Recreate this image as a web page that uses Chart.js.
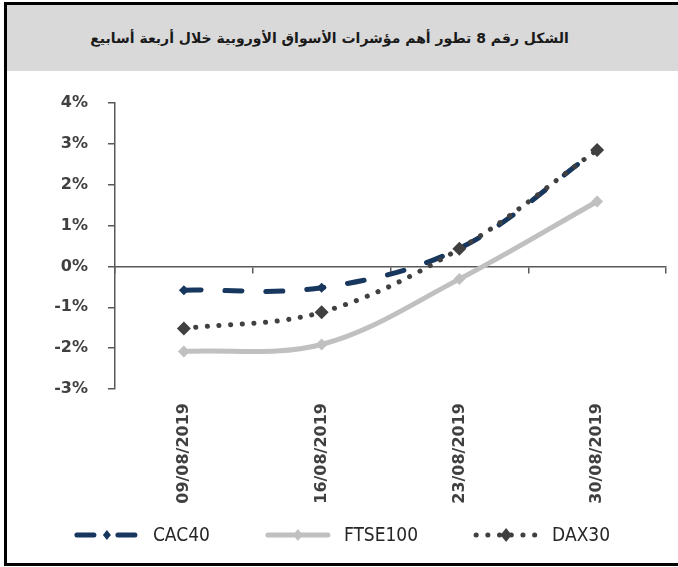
<!DOCTYPE html>
<html lang="ar">
<head>
<meta charset="UTF-8">
<title>European indices</title>
<script src="https://cdn.jsdelivr.net/npm/chart.js"></script>
<style>
    body { margin: 0; background: #fff; overflow: hidden; }
    /* outer frame: black border on left, top and bottom */
    .frame {
        position: absolute;
        left: 4px; top: 2px;
        width: 671px; height: 558px;
        border: 3px solid #000;
        border-right: none;
    }
    .header {
        height: 66px;
        background: #d9d9d9;
        width: 671px;
        display: flex;
        align-items: center;
        justify-content: center;
        direction: rtl;
        font-family: "DejaVu Sans", sans-serif;
        font-weight: bold;
        font-size: 14px;
        color: #1a1a1a;
        padding-right: 26px;
        box-sizing: border-box;
    }
    .chart-box { position: relative; width: 671px; height: 492px; }
</style>
</head>
<body>
<div class="frame">
    <div class="header">الشكل رقم 8 تطور أهم مؤشرات الأسواق الأوروبية خلال أربعة أسابيع</div>
    <div class="chart-box"><canvas id="chart"></canvas></div>
</div>

<script>
    // data (weekly change, %)
    const dates = ['09/08/2019', '16/08/2019', '23/08/2019', '30/08/2019'];
    const cac40 = [-0.58, -0.52, 0.44, 2.85];
    const ftse100 = [-2.08, -1.91, -0.31, 1.59];
    const dax30 = [-1.52, -1.12, 0.43, 2.85];
    const yTicks = [4, 3, 2, 1, 0, -1, -2, -3];

    const axisGray = '#595959';
    const labelGray = '#404040';

    Chart.defaults.font.family = '"DejaVu Sans", sans-serif';

    // legend drawn as "line + diamond" samples, like the spreadsheet original
    const lineLegend = {
        id: 'lineLegend',
        afterDraw(chart) {
            const ctx = chart.ctx;
            const sample = 64, gap = 14, itemGap = 56;
            const y = chart.height - 28;
            ctx.save();
            ctx.font = '19px "DejaVu Sans Condensed", sans-serif';
            const items = chart.data.datasets.map(ds => ({
                ds, w: sample + gap + ctx.measureText(ds.label).width
            }));
            const total = items.reduce((s, it) => s + it.w, 0) + itemGap * (items.length - 1);
            let x = (chart.width - total) / 2;
            items.forEach(({ds, w}) => {
                ctx.beginPath();
                ctx.strokeStyle = ds.borderColor;
                ctx.lineWidth = ds.borderWidth;
                ctx.lineCap = 'round';
                ctx.setLineDash(ds.borderDash || []);
                ctx.moveTo(x + 2, y);
                ctx.lineTo(x + sample - 2, y);
                ctx.stroke();
                ctx.setLineDash([]);
                const r = ds.pointRadius;
                const cx = x + sample / 2;
                ctx.beginPath();
                ctx.fillStyle = ds.pointBackgroundColor;
                ctx.moveTo(cx, y - r);
                ctx.lineTo(cx + r * 0.8, y);
                ctx.lineTo(cx, y + r);
                ctx.lineTo(cx - r * 0.8, y);
                ctx.closePath();
                ctx.fill();
                ctx.fillStyle = '#262626';
                ctx.textBaseline = 'middle';
                ctx.textAlign = 'left';
                ctx.fillText(ds.label, x + sample + gap, y + 1);
                x += w + itemGap;
            });
            ctx.restore();
        }
    };

    new Chart(document.getElementById('chart'), {
        type: 'line',
        data: {
            labels: dates,
            datasets: [
                {
                    label: 'CAC40',
                    data: cac40,
                    borderColor: '#17375e',
                    borderWidth: 5,
                    borderDash: [17, 24],
                    borderCapStyle: 'round',
                    pointStyle: 'rectRot',
                    pointRadius: 5,
                    pointBackgroundColor: '#17375e',
                    pointBorderWidth: 0,
                    tension: 0.35,
                    order: 1
                },
                {
                    label: 'FTSE100',
                    data: ftse100,
                    borderColor: '#c0c0c0',
                    borderWidth: 5,
                    pointStyle: 'rectRot',
                    pointRadius: 6,
                    pointBackgroundColor: '#c0c0c0',
                    pointBorderWidth: 0,
                    tension: 0.35,
                    order: 2
                },
                {
                    label: 'DAX30',
                    data: dax30,
                    borderColor: '#404040',
                    borderWidth: 5,
                    borderDash: [0.1, 11.6],
                    borderCapStyle: 'round',
                    pointStyle: 'rectRot',
                    pointRadius: 7,
                    pointBackgroundColor: '#404040',
                    pointBorderWidth: 0,
                    tension: 0.35,
                    order: 0
                }
            ]
        },
        options: {
            responsive: true,
            maintainAspectRatio: false,
            animation: false,
            layout: { padding: { top: 32, right: 12, bottom: 0, left: 0 } },
            plugins: {
                legend: { display: false },
                tooltip: { enabled: false }
            },
            scales: {
                x: {
                    offset: true,
                    grid: { display: false, drawTicks: false },
                    border: { display: false },
                    ticks: {
                        minRotation: 90, maxRotation: 90,
                        padding: 14,
                        color: labelGray,
                        font: { size: 16, weight: 'bold' }
                    },
                    afterFit: s => { s.height = 174; }
                },
                // zero line with category tick marks
                x2: {
                    axis: 'x',
                    type: 'category',
                    position: { y: 0 },
                    offset: true,
                    grid: { offset: true, drawOnChartArea: false, tickLength: 6, color: axisGray, lineWidth: 1.5 },
                    border: { color: axisGray, width: 1.5 },
                    ticks: { display: false },
                    afterFit: s => { s.height = 0; }
                },
                y: {
                    min: -3, max: 4,
                    afterBuildTicks: s => { s.ticks = yTicks.map(v => ({ value: v })); },
                    grid: { drawOnChartArea: false, tickLength: 7, color: axisGray, lineWidth: 1.5 },
                    border: { color: axisGray, width: 1.5 },
                    ticks: {
                        padding: 20,
                        color: labelGray,
                        font: { size: 16, weight: 'bold' },
                        callback: v => v + '%'
                    },
                    afterFit: s => { s.width = 108; }
                }
            }
        },
        plugins: [lineLegend]
    });
</script>
</body>
</html>
